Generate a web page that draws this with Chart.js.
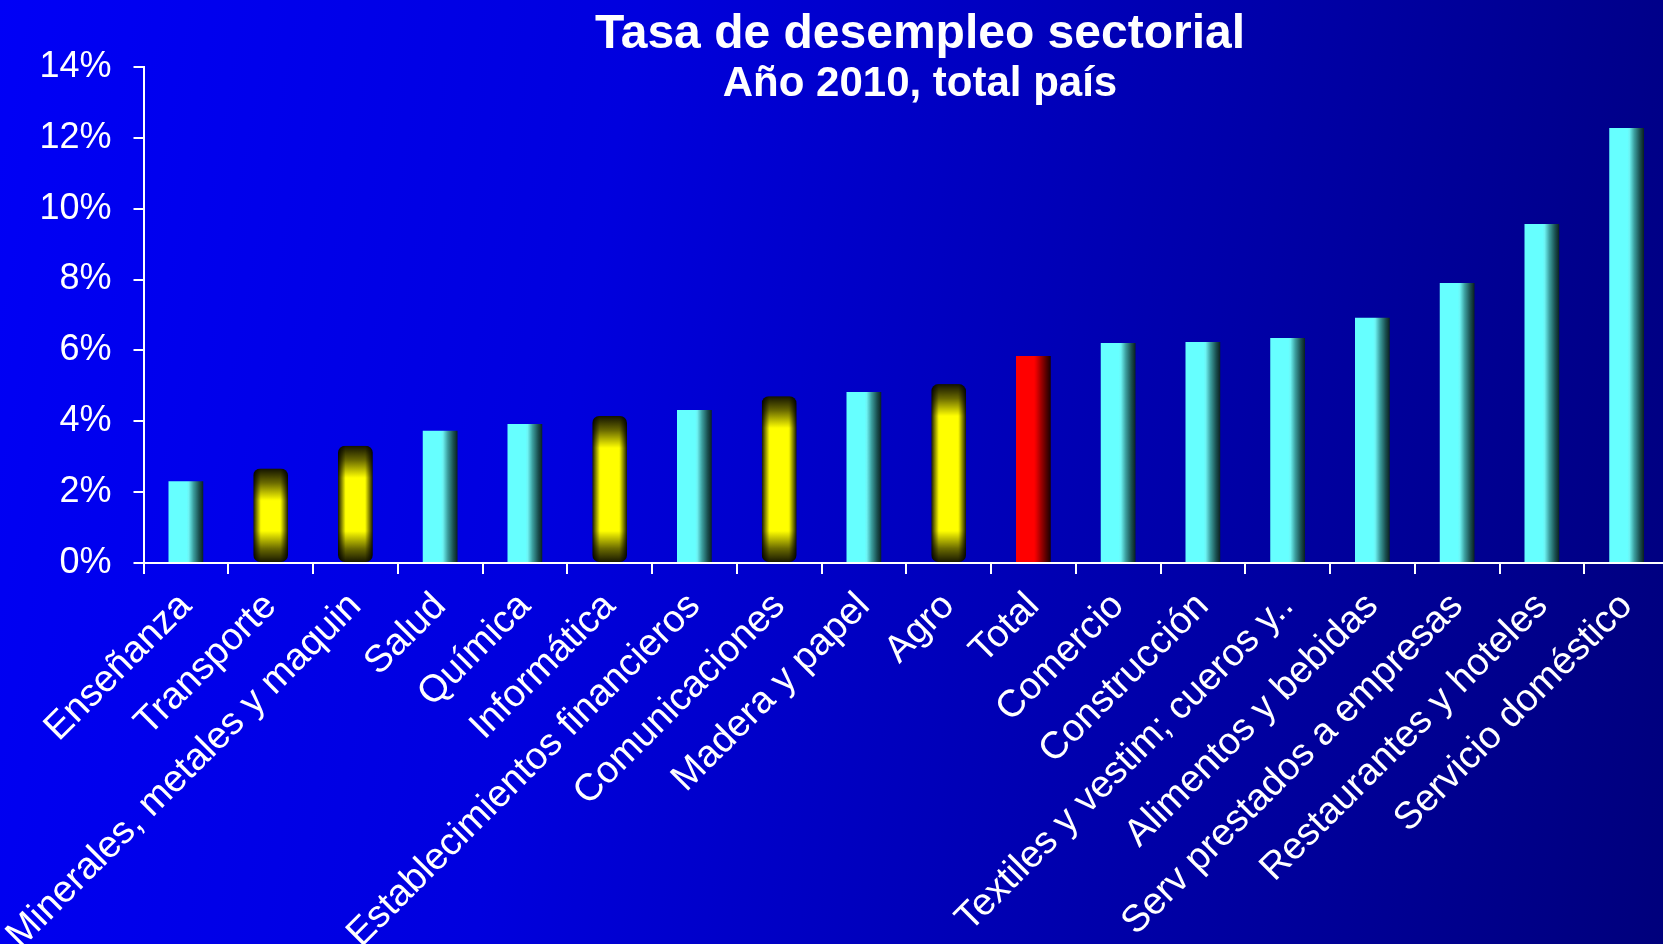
<!DOCTYPE html>
<html>
<head>
<meta charset="utf-8">
<script src="https://cdn.jsdelivr.net/npm/chart.js@4/dist/chart.umd.min.js"></script>
<style>
  html, body { margin: 0; padding: 0; overflow: hidden; }
  body {
    width: 1663px; height: 944px;
    background: linear-gradient(100deg, #0000f6 0%, #0000de 35%, #0000b0 65%, #00007c 100%);
  }
  #wrap { position: relative; width: 1672px; height: 944px; }
</style>
</head>
<body>
<div id="wrap"><canvas id="chartSect"></canvas></div>
<script>
// data
const categories = [
  'Enseñanza', 'Transporte', 'Minerales, metales y maquin', 'Salud', 'Química',
  'Informática', 'Establecimientos financieros', 'Comunicaciones', 'Madera y papel',
  'Agro', 'Total', 'Comercio', 'Construcción', 'Textiles y vestim; cueros y..',
  'Alimentos y bebidas', 'Serv prestados a empresas', 'Restaurantes y hoteles',
  'Servicio doméstico'
];
const rates = [2.31, 2.67, 3.31, 3.73, 3.92, 4.15, 4.32, 4.71, 4.83, 5.05,
               5.84, 6.21, 6.24, 6.35, 6.92, 7.90, 9.57, 12.28];
const yellowSectors = ['Transporte', 'Minerales, metales y maquin', 'Informática', 'Comunicaciones', 'Agro'];
const totalLabel = 'Total';
const yMin = 0, yMax = 14, yStep = 2;
const titleText = 'Tasa de desempleo sectorial';
const subtitleText = 'Año 2010, total país';

const fam = '"Liberation Sans", Arial, sans-serif';
const barPct = 0.41;

// geometry of bar i from the scales
function barBox(chart, i) {
  const xs = chart.scales.x, ys = chart.scales.y;
  if (!xs || !ys || !chart.chartArea || !xs.width) return null;
  const cx = xs.getPixelForValue(i);
  const w = xs.width / categories.length * barPct;
  const top = ys.getPixelForValue(rates[i]);
  const base = ys.getPixelForValue(0);
  return { left: cx - w / 2, right: cx + w / 2, top, base, w, h: base - top };
}

function sideShade(c, b, main, s) {
  const g = c.createLinearGradient(b.left, 0, b.right, 0);
  g.addColorStop(0, main);
  g.addColorStop(0.52, main);
  g.addColorStop(0.58, s[0]);
  g.addColorStop(0.72, s[1]);
  g.addColorStop(0.88, s[2]);
  g.addColorStop(1, s[3]);
  return g;
}

function pillow(c, b) {
  const off = document.createElement('canvas');
  off.width = Math.ceil(b.w) + 1;
  off.height = Math.ceil(b.h) + 1;
  const o = off.getContext('2d');
  const e = Math.min(0.45, 32 / b.h);
  const gv = o.createLinearGradient(0, 0, 0, b.h);
  gv.addColorStop(0, '#121200');
  gv.addColorStop(e * 0.45, '#6a6a00');
  gv.addColorStop(e, '#ffff00');
  gv.addColorStop(1 - e, '#ffff00');
  gv.addColorStop(1 - e * 0.45, '#6a6a00');
  gv.addColorStop(1, '#121200');
  o.fillStyle = gv;
  o.fillRect(0, 0, off.width, off.height);
  const gh = o.createLinearGradient(0, 0, b.w, 0);
  gh.addColorStop(0, 'rgba(0,0,0,0.9)');
  gh.addColorStop(0.22, 'rgba(0,0,0,0)');
  gh.addColorStop(0.78, 'rgba(0,0,0,0)');
  gh.addColorStop(1, 'rgba(0,0,0,0.9)');
  o.fillStyle = gh;
  o.fillRect(0, 0, off.width, off.height);
  const p = c.createPattern(off, 'no-repeat');
  p.setTransform(new DOMMatrix([1, 0, 0, 1, b.left, b.top]));
  return p;
}

function barFill(ctx) {
  const name = categories[ctx.dataIndex];
  const b = barBox(ctx.chart, ctx.dataIndex);
  const c = ctx.chart.ctx;
  if (yellowSectors.includes(name)) {
    return b ? pillow(c, b) : '#ffff00';
  }
  if (name === totalLabel) {
    return b ? sideShade(c, b, '#ff0000', ['#e80000', '#a00000', '#500000', '#1a0000']) : '#ff0000';
  }
  return b ? sideShade(c, b, '#66ffff', ['#6cf4f4', '#3c9e9e', '#1a5050', '#0a2020']) : '#66ffff';
}

// title text
const titlePlugin = {
  id: 'slideTitle',
  afterDraw(chart) {
    const c = chart.ctx;
    c.save();
    c.fillStyle = '#ffffff';
    c.textAlign = 'center';
    c.textBaseline = 'alphabetic';
    c.font = 'bold 48px ' + fam;
    c.fillText(titleText, 920, 48);
    c.font = 'bold 42px ' + fam;
    c.fillText(subtitleText, 920, 96);
    c.restore();
  }
};

new Chart(document.getElementById('chartSect'), {
  type: 'bar',
  data: {
    labels: categories,
    datasets: [{
      data: rates,
      backgroundColor: barFill,
      borderWidth: 0,
      borderRadius: ctx => yellowSectors.includes(categories[ctx.dataIndex]) ? 7 : 0,
      borderSkipped: false,
      barPercentage: barPct,
      categoryPercentage: 1,
    }],
  },
  options: {
    responsive: true,
    maintainAspectRatio: false,
    animation: false,
    layout: { padding: { left: 38, right: 3, top: 67, bottom: 0 } },
    plugins: {
      legend: { display: false },
      tooltip: { enabled: false },
    },
    scales: {
      x: {
        grid: { drawOnChartArea: false, drawTicks: true, tickLength: 11, color: '#ffffff', lineWidth: 2, offset: true },
        border: { color: '#ffffff', width: 2 },
        ticks: {
          color: '#ffffff',
          font: { family: fam, size: 38 },
          minRotation: 45,
          maxRotation: 45,
          autoSkip: false,
          padding: 10,
        },
        afterFit: s => { s.paddingLeft = 0; s.paddingRight = 0; s.height = 381; },
      },
      y: {
        min: yMin,
        max: yMax,
        grid: { drawOnChartArea: false, drawTicks: true, tickLength: 10, color: '#ffffff', lineWidth: 2 },
        border: { color: '#ffffff', width: 2 },
        ticks: {
          stepSize: yStep,
          color: '#ffffff',
          font: { family: fam, size: 36 },
          padding: 22,
          callback: v => v + '%',
        },
        afterFit: s => { s.width = 105.5; },
      },
    },
  },
  plugins: [titlePlugin],
});
</script>
</body>
</html>
